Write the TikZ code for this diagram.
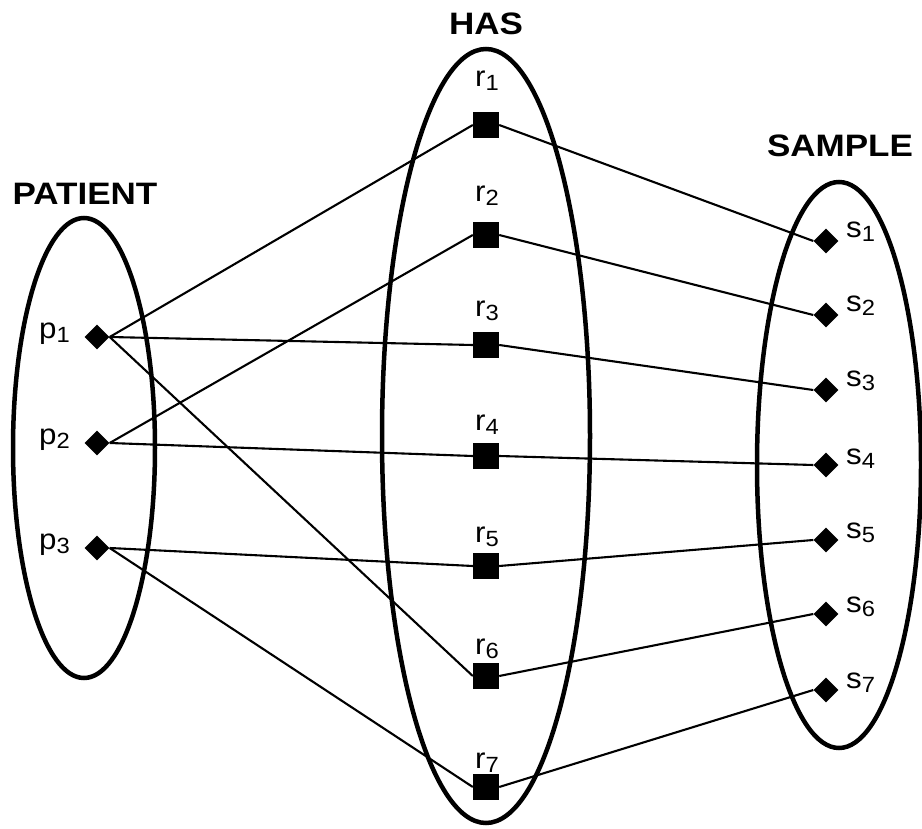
\documentclass[tikz,border=0pt]{standalone}
\usepackage{fontspec}
\setmainfont{Liberation Sans}
\newfontfamily\titlefont{Liberation Sans}[FakeStretch=1.13]
\newfontfamily\labelfont{Liberation Sans}[FakeStretch=1.08]
\usetikzlibrary{shapes.geometric}
% letter with a lowered index digit
\newcommand\idx[2]{#1\raisebox{-4pt}{\fontsize{22}{22}\selectfont #2}}

\begin{document}
\begin{tikzpicture}[x=1pt,y=-1pt,
  set/.style={draw, line width=4.5pt},
  settitle/.style={font=\titlefont\bfseries\fontsize{31}{31}\selectfont, inner sep=0pt},
  lbl/.style={font=\labelfont\fontsize{29}{29}\selectfont, inner sep=0pt},
  entity/.style={diamond, fill=black, draw=none, inner sep=0pt,
                 minimum width=25pt, minimum height=25pt},
  rel/.style={rectangle, fill=black, draw=none, inner sep=0pt, minimum size=26pt},
  link/.style={draw, line width=2.1pt}]

\useasboundingbox (0,0) rectangle (922,829);

% the three sets
\draw[set] (84,448) ellipse [x radius=71pt, y radius=230pt];
\draw[set] (486,436) ellipse [x radius=104pt, y radius=387pt];
\draw[set] (839,465) ellipse [x radius=82pt, y radius=283pt];

% set titles
\node[settitle] (tp) at (85,194) {PATIENT};
\node[settitle] (th) at (486,24) {HAS};
\node[settitle] (ts) at (840,146) {SAMPLE};

% patients
\node[entity] (p1) at (97,337) {};
\node[entity] (p2) at (97,443) {};
\node[entity] (p3) at (97,548) {};
\node[lbl, anchor=base east] (lp1) at (70,338) {\idx{p}{1}};
\node[lbl, anchor=base east] (lp2) at (70,444) {\idx{p}{2}};
\node[lbl, anchor=base east] (lp3) at (70,549) {\idx{p}{3}};

% relationship instances
\node[rel] (r1) at (486,125) {};
\node[rel] (r2) at (486,235) {};
\node[rel] (r3) at (486,345) {};
\node[rel] (r4) at (486,456) {};
\node[rel] (r5) at (486,566) {};
\node[rel] (r6) at (486,676) {};
\node[rel] (r7) at (486,787) {};
\node[lbl, anchor=base] (lr1) at (487,87) {\idx{r}{1}};
\node[lbl, anchor=base] (lr2) at (487,202) {\idx{r}{2}};
\node[lbl, anchor=base] (lr3) at (487,317) {\idx{r}{3}};
\node[lbl, anchor=base] (lr4) at (487,430) {\idx{r}{4}};
\node[lbl, anchor=base] (lr5) at (487,542) {\idx{r}{5}};
\node[lbl, anchor=base] (lr6) at (487,654) {\idx{r}{6}};
\node[lbl, anchor=base] (lr7) at (487,768) {\idx{r}{7}};

% samples
\node[entity] (s1) at (826,241) {};
\node[entity] (s2) at (826,315) {};
\node[entity] (s3) at (826,390) {};
\node[entity] (s4) at (826,465) {};
\node[entity] (s5) at (826,540) {};
\node[entity] (s6) at (826,614) {};
\node[entity] (s7) at (826,690) {};
\node[lbl, anchor=base west] (ls1) at (846,238) {\idx{s}{1}};
\node[lbl, anchor=base west] (ls2) at (846,312) {\idx{s}{2}};
\node[lbl, anchor=base west] (ls3) at (846,387) {\idx{s}{3}};
\node[lbl, anchor=base west] (ls4) at (846,464) {\idx{s}{4}};
\node[lbl, anchor=base west] (ls5) at (846,538) {\idx{s}{5}};
\node[lbl, anchor=base west] (ls6) at (846,612) {\idx{s}{6}};
\node[lbl, anchor=base west] (ls7) at (846,688) {\idx{s}{7}};

% patient -- relationship links
\draw[link] (p1.east) -- (r1.west);
\draw[link] (p1.east) -- (r3.west);
\draw[link] (p1.east) -- (r6.west);
\draw[link] (p2.east) -- (r2.west);
\draw[link] (p2.east) -- (r4.west);
\draw[link] (p3.east) -- (r5.west);
\draw[link] (p3.east) -- (r7.west);

% relationship -- sample links
\foreach \i in {1,...,7} {
  \draw[link] (r\i.east) -- (s\i.west);
}
\end{tikzpicture}
\end{document}
